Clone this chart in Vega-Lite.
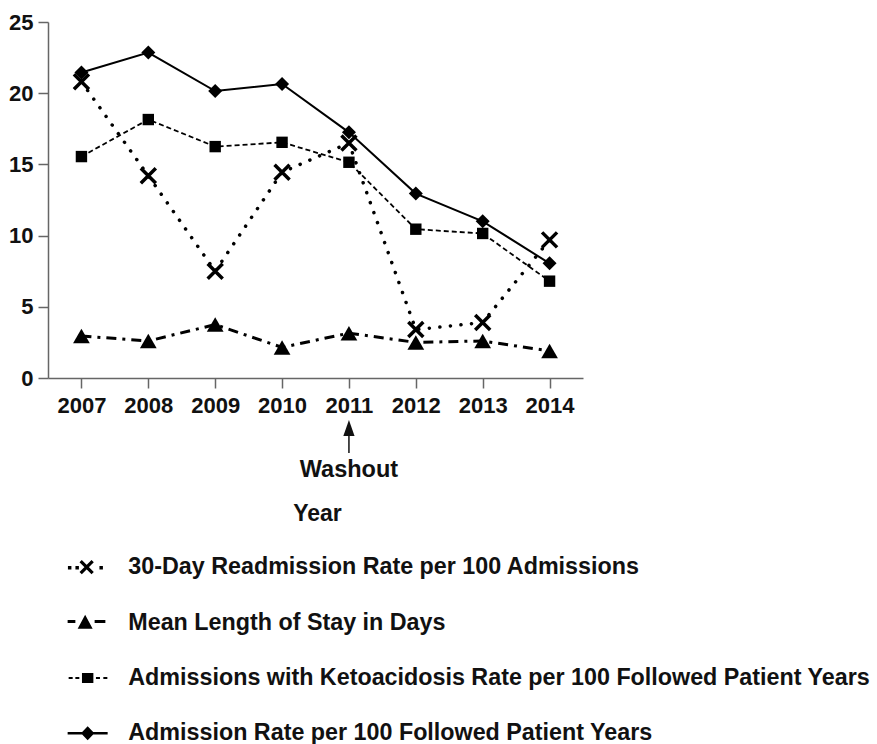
{
  "$schema": "https://vega.github.io/schema/vega-lite/v6.json",
  "autosize": "none",
  "width": 535,
  "height": 356,
  "padding": {"left": 48, "top": 22, "right": 294, "bottom": 366},
  "background": "white",
  "config": {
    "view": {"stroke": null},
    "font": "Liberation Sans",
    "axis": {
      "grid": false,
      "domainColor": "#666",
      "domainWidth": 1.5,
      "tickColor": "#666",
      "tickWidth": 1.5,
      "tickSize": 10,
      "labelFont": "Liberation Sans",
      "labelFontWeight": "bold",
      "labelFontSize": 22,
      "labelColor": "#111",
      "titleFont": "Liberation Sans",
      "titleFontWeight": "bold",
      "titleFontSize": 23,
      "titleColor": "#111"
    }
  },
  "data": {
    "values": [
      {"Year": "2007", "series": "30-Day Readmission Rate per 100 Admissions", "value": 20.8},
      {"Year": "2008", "series": "30-Day Readmission Rate per 100 Admissions", "value": 14.2},
      {"Year": "2009", "series": "30-Day Readmission Rate per 100 Admissions", "value": 7.5},
      {"Year": "2010", "series": "30-Day Readmission Rate per 100 Admissions", "value": 14.45},
      {"Year": "2011", "series": "30-Day Readmission Rate per 100 Admissions", "value": 16.5},
      {"Year": "2012", "series": "30-Day Readmission Rate per 100 Admissions", "value": 3.4},
      {"Year": "2013", "series": "30-Day Readmission Rate per 100 Admissions", "value": 3.9},
      {"Year": "2014", "series": "30-Day Readmission Rate per 100 Admissions", "value": 9.7},
      {"Year": "2007", "series": "Mean Length of Stay in Days", "value": 2.95},
      {"Year": "2008", "series": "Mean Length of Stay in Days", "value": 2.6},
      {"Year": "2009", "series": "Mean Length of Stay in Days", "value": 3.75},
      {"Year": "2010", "series": "Mean Length of Stay in Days", "value": 2.15},
      {"Year": "2011", "series": "Mean Length of Stay in Days", "value": 3.15},
      {"Year": "2012", "series": "Mean Length of Stay in Days", "value": 2.5},
      {"Year": "2013", "series": "Mean Length of Stay in Days", "value": 2.6},
      {"Year": "2014", "series": "Mean Length of Stay in Days", "value": 1.9},
      {"Year": "2007", "series": "Admissions with Ketoacidosis Rate per 100 Followed Patient Years", "value": 15.55},
      {"Year": "2008", "series": "Admissions with Ketoacidosis Rate per 100 Followed Patient Years", "value": 18.15},
      {"Year": "2009", "series": "Admissions with Ketoacidosis Rate per 100 Followed Patient Years", "value": 16.25},
      {"Year": "2010", "series": "Admissions with Ketoacidosis Rate per 100 Followed Patient Years", "value": 16.55},
      {"Year": "2011", "series": "Admissions with Ketoacidosis Rate per 100 Followed Patient Years", "value": 15.15},
      {"Year": "2012", "series": "Admissions with Ketoacidosis Rate per 100 Followed Patient Years", "value": 10.45},
      {"Year": "2013", "series": "Admissions with Ketoacidosis Rate per 100 Followed Patient Years", "value": 10.15},
      {"Year": "2014", "series": "Admissions with Ketoacidosis Rate per 100 Followed Patient Years", "value": 6.8},
      {"Year": "2007", "series": "Admission Rate per 100 Followed Patient Years", "value": 21.45},
      {"Year": "2008", "series": "Admission Rate per 100 Followed Patient Years", "value": 22.85},
      {"Year": "2009", "series": "Admission Rate per 100 Followed Patient Years", "value": 20.15},
      {"Year": "2010", "series": "Admission Rate per 100 Followed Patient Years", "value": 20.65},
      {"Year": "2011", "series": "Admission Rate per 100 Followed Patient Years", "value": 17.25},
      {"Year": "2012", "series": "Admission Rate per 100 Followed Patient Years", "value": 12.95},
      {"Year": "2013", "series": "Admission Rate per 100 Followed Patient Years", "value": 11.0},
      {"Year": "2014", "series": "Admission Rate per 100 Followed Patient Years", "value": 8.05}
    ]
  },
  "encoding": {
    "x": {
      "field": "Year",
      "type": "ordinal",
      "scale": {"type": "point", "padding": 0.5},
      "axis": {"labelAngle": 0, "labelPadding": 7, "title": "Year", "titleX": 269, "titleY": 135, "titleBaseline": "middle", "titleAlign": "center", "titleAnchor": null}
    },
    "y": {
      "field": "value",
      "type": "quantitative",
      "scale": {"domain": [0, 25], "nice": false, "zero": true},
      "axis": {"values": [0, 5, 10, 15, 20, 25], "title": null, "labelPadding": 5}
    }
  },
  "layer": [
    {
      "transform": [{"filter": "datum.series === '30-Day Readmission Rate per 100 Admissions'"}],
      "mark": {"type": "line", "color": "#000", "strokeWidth": 3.5, "strokeCap": "round", "strokeDash": [0.1, 10.5]}
    },
    {
      "transform": [{"filter": "datum.series === 'Mean Length of Stay in Days'"}],
      "mark": {"type": "line", "color": "#000", "strokeWidth": 3, "strokeDash": [10, 6, 3, 6]}
    },
    {
      "transform": [{"filter": "datum.series === 'Admissions with Ketoacidosis Rate per 100 Followed Patient Years'"}],
      "mark": {"type": "line", "color": "#000", "strokeWidth": 1.8, "strokeDash": [5, 3]}
    },
    {
      "transform": [{"filter": "datum.series === 'Admission Rate per 100 Followed Patient Years'"}],
      "mark": {"type": "line", "color": "#000", "strokeWidth": 2}
    },
    {
      "transform": [{"filter": "datum.series === '30-Day Readmission Rate per 100 Admissions'"}],
      "mark": {"type": "point", "shape": "M-1,-1L1,1M-1,1L1,-1", "size": 225, "filled": false, "stroke": "#000", "strokeWidth": 3.5, "opacity": 1}
    },
    {
      "transform": [{"filter": "datum.series === 'Mean Length of Stay in Days'"}],
      "mark": {"type": "point", "shape": "triangle-up", "size": 280, "filled": true, "fill": "#000", "opacity": 1}
    },
    {
      "transform": [{"filter": "datum.series === 'Admissions with Ketoacidosis Rate per 100 Followed Patient Years'"}],
      "mark": {"type": "point", "shape": "square", "size": 130, "filled": true, "fill": "#000", "opacity": 1}
    },
    {
      "transform": [{"filter": "datum.series === 'Admission Rate per 100 Followed Patient Years'"}],
      "mark": {"type": "point", "shape": "diamond", "size": 196, "filled": true, "fill": "#000", "opacity": 1}
    },
    {
      "transform": [{"filter": "datum.series === 'Admission Rate per 100 Followed Patient Years' && datum.Year === '2011'"}],
      "mark": {"type": "rule", "color": "#111", "strokeWidth": 1.5},
      "encoding": {"y": {"datum": -3.6}, "y2": {"datum": -5.27}}
    },
    {
      "transform": [{"filter": "datum.series === 'Admission Rate per 100 Followed Patient Years' && datum.Year === '2011'"}],
      "mark": {"type": "point", "shape": "M0,-1L0.7,1L-0.7,1Z", "size": 256, "filled": true, "fill": "#111", "opacity": 1},
      "encoding": {"y": {"datum": -3.51}}
    },
    {
      "transform": [{"filter": "datum.series === 'Admission Rate per 100 Followed Patient Years' && datum.Year === '2011'"}],
      "mark": {"type": "text", "text": "Washout", "font": "Liberation Sans", "fontWeight": "bold", "fontSize": 23.5, "color": "#111", "baseline": "middle", "align": "center"},
      "encoding": {"y": {"datum": -6.46}}
    },
    {
      "transform": [{"filter": "false"}],
      "mark": {"type": "point", "filled": true, "fill": "#000", "size": 144, "opacity": 1},
      "encoding": {
        "shape": {
          "field": "series",
          "type": "nominal",
          "scale": {
            "domain": [
              "30-Day Readmission Rate per 100 Admissions",
              "Mean Length of Stay in Days",
              "Admissions with Ketoacidosis Rate per 100 Followed Patient Years",
              "Admission Rate per 100 Followed Patient Years"
            ],
            "range": [
              "M-0.81,-1.19L1.19,0.81L0.81,1.19L-1.19,-0.81ZM-1.19,0.81L0.81,-1.19L1.19,-0.81L-0.81,1.19ZM-3.12,-0.19H-2.54V0.39H-3.12ZM-1.87,-0.19H-1.29V0.39H-1.87ZM2.13,-0.19H2.71V0.39H2.13Z",
              "M-0.25,-1.28L1.0,1.05L-1.5,1.05ZM-3.17,-0.42H-1.88V0.08H-3.17ZM1.33,-0.42H3.12V0.08H1.33Z",
              "M-0.78,-0.83H1.12V0.83H-0.78ZM-3.0,-0.17H-2.33V0.17H-3.0ZM-1.88,-0.17H-1.22V0.17H-1.88ZM1.55,-0.17H2.22V0.17H1.55ZM2.78,-0.17H3.45V0.17H2.78Z",
              "M-3.17,-0.21H3.5V0.21H-3.17ZM0.17,-1.17L1.29,0L0.17,1.17L-0.95,0Z"
            ]
          },
          "legend": {
            "title": null,
            "orient": "none",
            "legendX": 27,
            "legendY": 533.5,
            "direction": "vertical",
            "padding": 0,
            "rowPadding": 31.4,
            "symbolSize": 144,
            "symbolStrokeWidth": 0,
            "symbolFillColor": "#000",
            "symbolOpacity": 1,
            "labelOffset": 30,
            "labelFont": "Liberation Sans",
            "labelFontWeight": "bold",
            "labelFontSize": 23.3,
            "labelColor": "#111",
            "labelLimit": 0,
            "labelBaseline": "middle"
          }
        }
      }
    }
  ]
}
